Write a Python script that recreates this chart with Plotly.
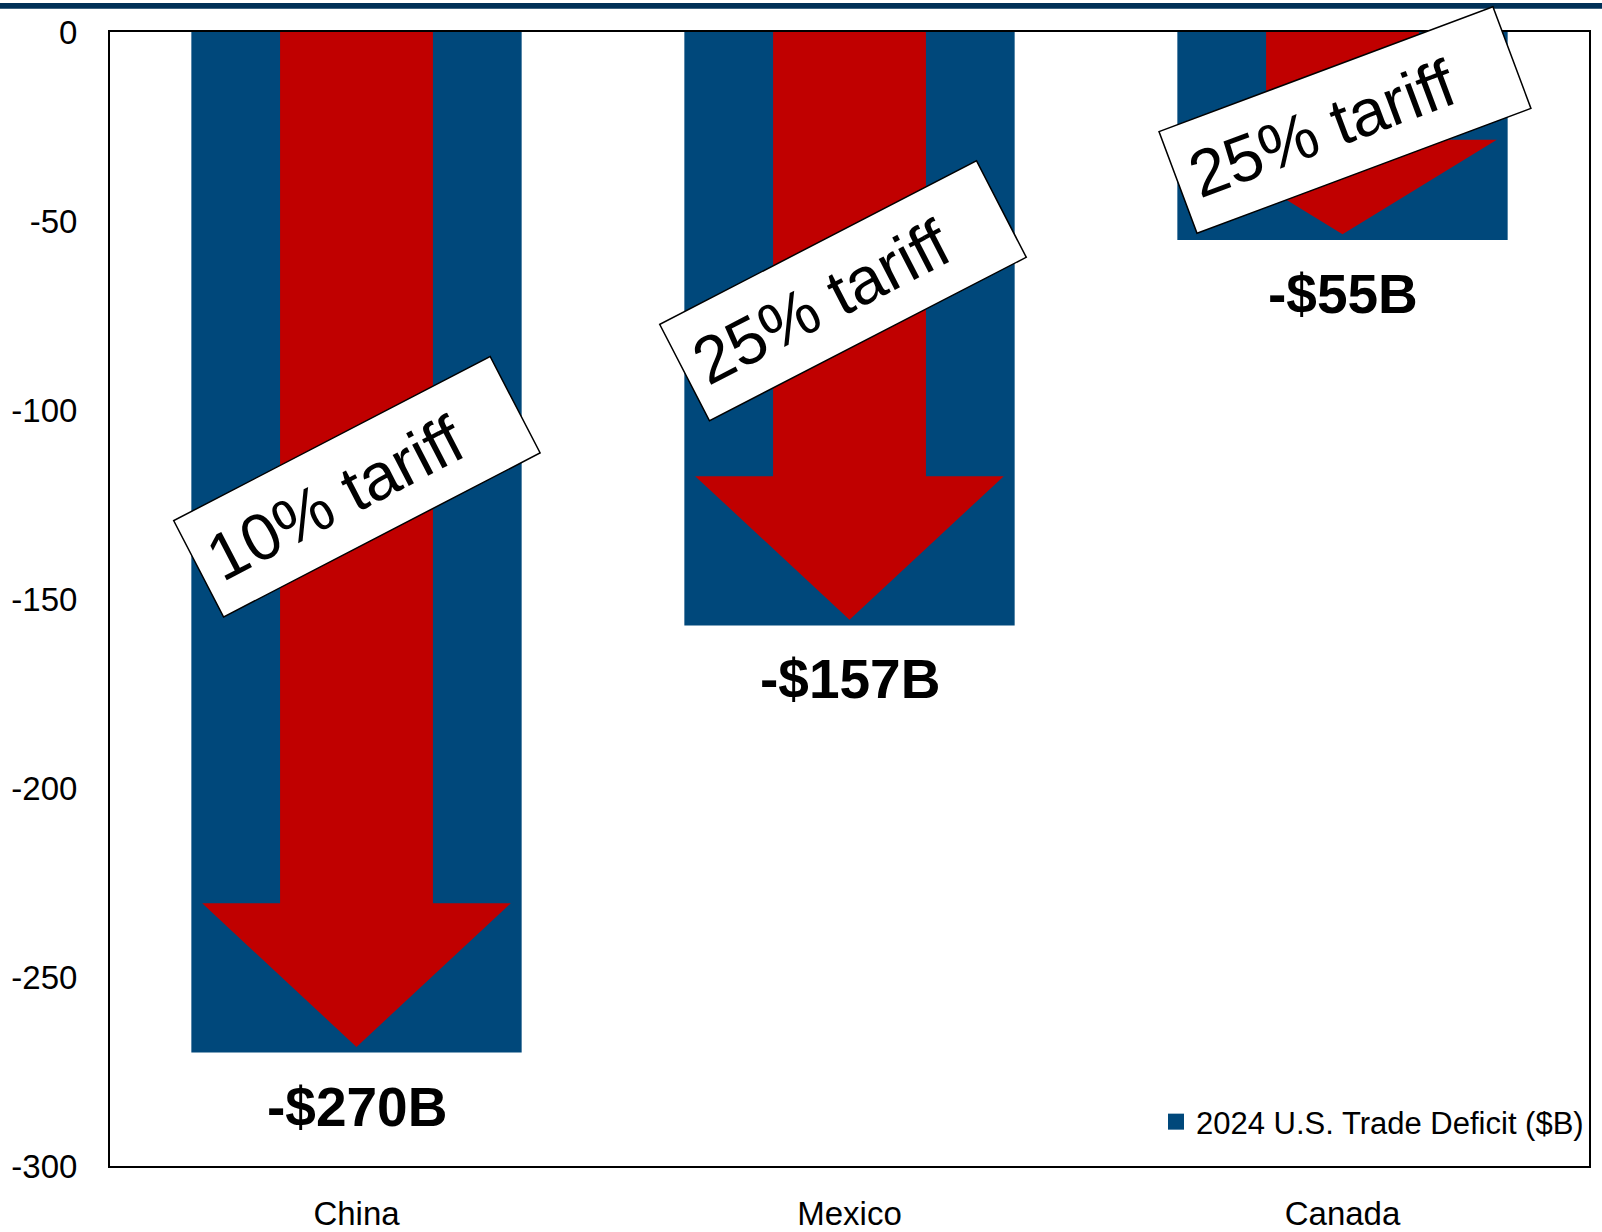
import plotly.graph_objects as go

# ---------------- data ----------------
countries = ["China", "Mexico", "Canada"]
deficit = [-270, -157, -55]                      # 2024 U.S. trade deficit, $B
tariff_labels = ["10% tariff", "25% tariff", "25% tariff"]
legend_name = "2024 U.S. Trade Deficit ($B)"
y_ticks = [0, -50, -100, -150, -200, -250, -300]
y_ticktext = ["0", "-50", "-100", "-150", "-200", "-250", "-300"]

# ---------------- styles ----------------
BAR_BLUE = "#00487B"
ARROW_RED = "#C00000"
BAND_NAVY = "#003057"
SANS = "Liberation Sans, Arial, sans-serif"

bar_width = 0.67
shaft_half = 0.155
head_half = 0.313
tip_gap = 1.5
arrow_head_len = [38, 38, 25]

# tariff label boxes: (x, y) centre in axis units and rotation angle
box_pos = [(0.0, -120.4), (0.986, -68.5), (2.005, -23.3)]
box_angle = [-27.4, -27.3, -20.5]

xs = list(range(len(countries)))

fig = go.Figure()

fig.add_trace(go.Bar(
    x=xs, y=deficit, width=bar_width,
    marker=dict(color=BAR_BLUE, line=dict(width=0)),
    showlegend=False, hoverinfo="skip",
))

# red arrows built from each bar's value
for i, v in enumerate(deficit):
    tip = v + tip_gap
    head_top = tip + arrow_head_len[i]
    px = [i - shaft_half, i + shaft_half, i + shaft_half, i + head_half,
          i, i - head_half, i - shaft_half, i - shaft_half]
    py = [0, 0, head_top, head_top, tip, head_top, head_top, 0]
    fig.add_trace(go.Scatter(
        x=px, y=py, mode="lines", fill="toself", fillcolor=ARROW_RED,
        line=dict(width=0, color=ARROW_RED), showlegend=False, hoverinfo="skip",
    ))

# legend-only entry
fig.add_trace(go.Scatter(
    x=[None], y=[None], mode="markers", name=legend_name,
    marker=dict(symbol="square", size=20, color=BAR_BLUE),
))

annotations = []
for i, v in enumerate(deficit):
    annotations.append(dict(
        x=i, y=v, xref="x", yref="y", text=f"<b>-${abs(v)}B</b>",
        showarrow=False, xanchor="center", yanchor="middle", yshift=-54,
        font=dict(family=SANS, size=55, color="black"),
    ))
for i, lab in enumerate(tariff_labels):
    bx, by = box_pos[i]
    annotations.append(dict(
        x=bx, y=by, xref="x", yref="y", text=lab, showarrow=False,
        xanchor="center", yanchor="middle", textangle=box_angle[i],
        width=327, height=79, align="left", valign="middle",
        bgcolor="white", bordercolor="black", borderwidth=1.5, borderpad=14,
        font=dict(family=SANS, size=66, color="black"),
    ))

fig.update_layout(
    width=1602, height=1232,
    margin=dict(l=110, r=13, t=32, b=66, autoexpand=False),
    paper_bgcolor="white", plot_bgcolor="white",
    annotations=annotations,
    shapes=[dict(type="rect", xref="paper", yref="paper",
                 x0=-0.1, x1=1.02, y0=1.0206, y1=1.0256,
                 fillcolor=BAND_NAVY, line=dict(width=0), layer="above")],
    legend=dict(x=1.0, xanchor="right", y=0.0388, yanchor="middle",
                bgcolor="rgba(0,0,0,0)", borderwidth=0,
                font=dict(family=SANS, size=31, color="black"),
                itemsizing="trace"),
    xaxis=dict(range=[-0.5, 2.5], tickvals=xs, ticktext=countries,
               showline=True, mirror=True, linecolor="black", linewidth=2,
               showgrid=False, zeroline=False, ticks="", automargin=False,
               tickfont=dict(family=SANS, size=33, color="black"),
               ticklabelstandoff=17, fixedrange=True),
    yaxis=dict(range=[-300, 0], tickvals=y_ticks, ticktext=y_ticktext,
               showline=True, mirror=True, linecolor="black", linewidth=2,
               showgrid=False, zeroline=False, ticks="", automargin=False,
               tickfont=dict(family=SANS, size=33, color="black"),
               ticklabelstandoff=24, fixedrange=True),
)

fig.write_html("out.html")
